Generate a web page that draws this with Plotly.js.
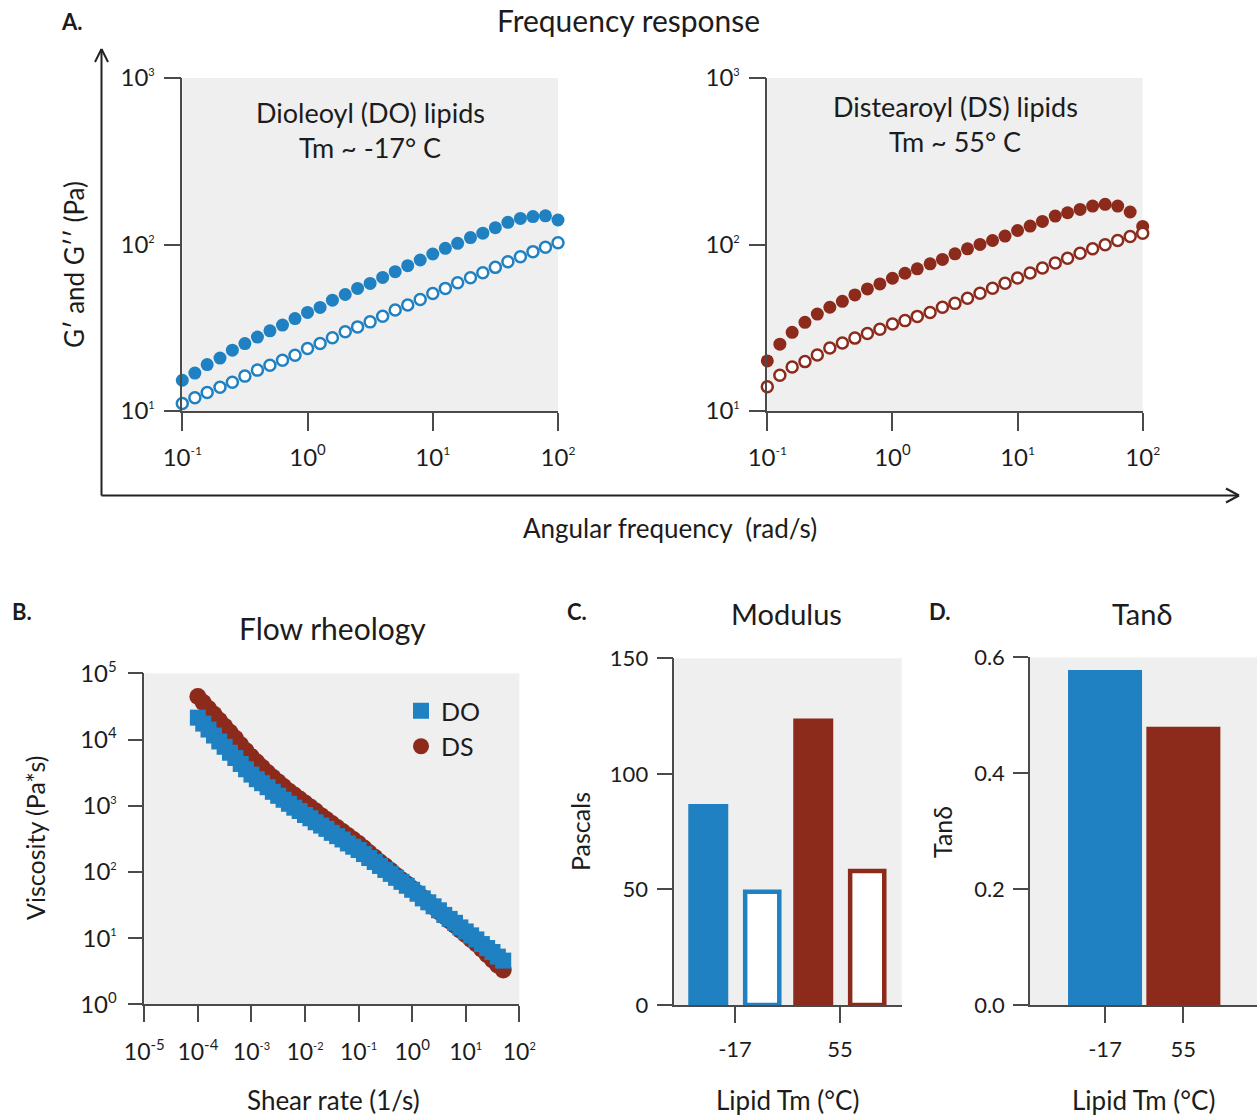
<!DOCTYPE html>
<html>
<head>
<meta charset="utf-8">
<script src="https://cdn.plot.ly/plotly-3.0.1.min.js"></script>
<style>html,body{margin:0;padding:0;background:#fff;}#chart{width:1257px;height:1115px;}</style>
</head>
<body>
<div id="chart"></div>
<script>
// ---------- Panel A: frequency sweep ----------
const angularFrequency = [0.1,0.126,0.158,0.2,0.251,0.316,0.398,0.501,0.631,0.794,1,1.26,1.58,2,2.51,3.16,3.98,5.01,6.31,7.94,10,12.6,15.8,20,25.1,31.6,39.8,50.1,63.1,79.4,100];
const doStorage = [15.3,16.9,19.0,20.8,23.2,25.4,27.8,30.3,32.8,35.9,39.1,41.9,46.3,50.1,54.5,58.4,63.4,68.7,74.6,80.7,87.7,94.9,101.7,110,117,126.2,135.8,143.5,147.1,148.6,140.3];
const doLoss = [11.1,12.0,12.9,13.9,14.9,16.2,17.6,18.8,20.2,21.6,23.7,25.4,27.5,29.9,32.0,34.3,37.1,40.4,43.3,46.8,50.8,54.5,58.9,63.1,67.6,72.9,78.8,84.5,90.6,96.2,102.5];
const dsStorage = [20.0,25.2,29.7,34.1,38.2,42.0,45.6,49.8,54.1,58.0,62.7,67.2,71.4,76.5,81.3,87.9,94.2,100.1,105.7,112.3,121.4,129.0,137.6,148.1,155.1,162.5,170.2,174.2,170.2,156.7,128.4];
const dsLoss = [14.0,16.4,18.4,19.8,21.7,23.9,25.6,27.4,29.2,31.0,33.3,34.9,37.0,39.1,42.0,44.3,47.5,50.9,54.6,58.5,62.9,67.5,72.3,77.5,82.7,88.6,94.2,99.6,105.7,111.7,117.0];

// ---------- Panel B: flow curve ----------
const shearRate = [1.0e-4,1.26e-4,1.58e-4,2.0e-4,2.51e-4,3.16e-4,3.98e-4,5.01e-4,6.31e-4,7.94e-4,
  1.0e-3,1.26e-3,1.58e-3,2.0e-3,2.51e-3,3.16e-3,3.98e-3,5.01e-3,6.31e-3,7.94e-3,
  0.01,0.0126,0.0158,0.02,0.0251,0.0316,0.0398,0.0501,0.0631,0.0794,
  0.1,0.126,0.158,0.2,0.251,0.316,0.398,0.501,0.631,0.794,
  1,1.26,1.58,2,2.51,3.16,3.98,5.01,6.31,7.94,
  10,12.6,15.8,20,25.1,31.6,39.8,50.1];
const viscosityDO = [21380,17380,14130,11480,9330,7760,6310,5250,4270,3550,
  2950,2510,2190,1905,1620,1410,1230,1070,933,832,
  724,646,562,501,447,389,347,309,269,240,
  214,186,162,141,123,107,93.3,81.3,70.8,61.7,
  53.7,46.8,39.8,34.7,30.2,26.3,22.4,19.5,17.0,14.5,
  12.6,11.0,9.55,8.13,7.08,6.17,5.25,4.57];
const viscosityDS = [44670,36310,29510,23990,19500,15850,12880,10470,8320,6760,
  5500,4570,3800,3160,2690,2290,1950,1660,1445,1260,
  1096,955,832,708,617,537,468,407,355,309,
  269,229,195,166,141,123,105,89.1,75.9,66.1,
  56.2,47.9,40.7,34.7,29.5,25.1,21.4,18.2,15.5,13.2,
  11.2,9.55,8.13,6.76,5.62,4.68,3.89,3.31];

// ---------- Panels C & D ----------
const lipidTm = ['-17', '55'];
const storageModulus = [87, 124];
const lossModulus = [49, 58];
const tanDelta = [0.578, 0.48];

// ---------- Tick labels ----------
const aXTickVals = [0.1, 1, 10, 100];
const aXTickText = ['10<sup><span style="font-size:12px">-1</span></sup>','10<sup><span style="font-size:15px">0</span></sup>','10<sup><span style="font-size:12px">1</span></sup>','10<sup><span style="font-size:12px">2</span></sup>'];
const aYTickVals = [10, 100, 1000];
const aYTickText = ['10<sup><span style="font-size:11px">1</span></sup>','10<sup><span style="font-size:11px">2</span></sup>','10<sup><span style="font-size:11px">3</span></sup>'];
const bXTickVals = [1e-5,1e-4,1e-3,1e-2,1e-1,1,10,100];
const bXTickText = ['10<sup><span style="font-size:15px">-5</span></sup>','10<sup><span style="font-size:15px">-4</span></sup>','10<sup><span style="font-size:11px">-3</span></sup>','10<sup><span style="font-size:11px">-2</span></sup>','10<sup><span style="font-size:11px">-1</span></sup>','10<sup><span style="font-size:15px">0</span></sup>','10<sup><span style="font-size:11px">1</span></sup>','10<sup><span style="font-size:11px">2</span></sup>'];
const bYTickVals = [1,10,100,1000,1e4,1e5];
const bYTickText = ['10<sup><span style="font-size:15px">0</span></sup>','10<sup><span style="font-size:11px">1</span></sup>','10<sup><span style="font-size:11px">2</span></sup>','10<sup><span style="font-size:11px">3</span></sup>','10<sup><span style="font-size:15px">4</span></sup>','10<sup><span style="font-size:15px">5</span></sup>'];

const BLUE = '#1f80c2';
const RED = '#8c2a1c';
const INK = '#1c1c1c';
const AXC = '#4a4a4a';
const W = 1257, H = 1115;
const px = v => v / W;
const py = v => 1 - v / H;

const traces = [
  // Panel A left (DO)
  {x: angularFrequency, y: doStorage, xaxis:'x', yaxis:'y', type:'scatter', mode:'markers', cliponaxis:false, showlegend:false,
   marker:{color:BLUE, size:13, line:{width:0}}},
  {x: angularFrequency, y: doLoss, xaxis:'x', yaxis:'y', type:'scatter', mode:'markers', cliponaxis:false, showlegend:false,
   marker:{color:'#ffffff', size:11, line:{color:BLUE, width:2.5}}},
  // Panel A right (DS)
  {x: angularFrequency, y: dsStorage, xaxis:'x2', yaxis:'y2', type:'scatter', mode:'markers', cliponaxis:false, showlegend:false,
   marker:{color:RED, size:13, line:{width:0}}},
  {x: angularFrequency, y: dsLoss, xaxis:'x2', yaxis:'y2', type:'scatter', mode:'markers', cliponaxis:false, showlegend:false,
   marker:{color:'#ffffff', size:11, line:{color:RED, width:2.5}}},
  // Panel B
  {x: shearRate, y: viscosityDS, xaxis:'x3', yaxis:'y3', type:'scatter', mode:'markers', name:'DS', legendrank:2, cliponaxis:false,
   marker:{color:RED, size:17, symbol:'circle', line:{width:0}}},
  {x: shearRate, y: viscosityDO, xaxis:'x3', yaxis:'y3', type:'scatter', mode:'markers', name:'DO', legendrank:1, cliponaxis:false,
   marker:{color:BLUE, size:16, symbol:'square', line:{width:0}}},
  // Panel C
  {x: lipidTm, y: storageModulus, xaxis:'x4', yaxis:'y4', type:'bar', showlegend:false, width:0.381, offset:-0.445,
   marker:{color:[BLUE, RED], line:{width:0}}},
  {x: lipidTm, y: lossModulus, xaxis:'x4', yaxis:'y4', type:'bar', showlegend:false, width:0.325, offset:0.097,
   marker:{color:'#ffffff', line:{color:[BLUE, RED], width:4.5}}},
  // Panel D
  {x: lipidTm, y: tanDelta, xaxis:'x5', yaxis:'y5', type:'bar', showlegend:false, width:0.945,
   marker:{color:[BLUE, RED], line:{width:0}}}
];

const axisBase = {showline:true, linecolor:AXC, linewidth:1.5, ticks:'outside', tickcolor:AXC, tickwidth:1.5,
  showgrid:false, zeroline:false, fixedrange:true, tickfont:{size:24, color:INK}};

function ax(extra){ return Object.assign({}, axisBase, extra); }

const layout = {
  width: W, height: H,
  margin:{l:0, r:0, t:0, b:0},
  paper_bgcolor:'#ffffff',
  plot_bgcolor:'#efefef',
  font:{family:'Lato, "Noto Sans", sans-serif', color:INK},
  barmode:'overlay',
  showlegend:true,
  legend:{x:px(401), y:py(688), xanchor:'left', yanchor:'top', bgcolor:'rgba(0,0,0,0)', font:{size:25, color:INK}, itemsizing:'trace', tracegroupgap:0},
  xaxis: ax({domain:[px(182.3), px(558)], anchor:'y', type:'log', range:[-1,2], tickvals:aXTickVals, ticktext:aXTickText, ticklen:18, ticklabelstandoff:6}),
  yaxis: ax({domain:[py(411), py(78)], anchor:'x', type:'log', range:[1,3], tickvals:aYTickVals, ticktext:aYTickText, ticklen:17, ticklabelstandoff:4}),
  xaxis2: ax({domain:[px(767.3), px(1142.7)], anchor:'y2', type:'log', range:[-1,2], tickvals:aXTickVals, ticktext:aXTickText, ticklen:18, ticklabelstandoff:6}),
  yaxis2: ax({domain:[py(411), py(78)], anchor:'x2', type:'log', range:[1,3], tickvals:aYTickVals, ticktext:aYTickText, ticklen:17, ticklabelstandoff:4}),
  xaxis3: ax({domain:[px(144.3), px(519.3)], anchor:'y3', type:'log', range:[-5,2], tickvals:bXTickVals, ticktext:bXTickText, ticklen:16, ticklabelstandoff:10, tickfont:{size:23, color:INK}}),
  yaxis3: ax({domain:[py(1004.3), py(673.3)], anchor:'x3', type:'log', range:[0,5], tickvals:bYTickVals, ticktext:bYTickText, ticklen:15, ticklabelstandoff:6, tickfont:{size:24, color:INK}}),
  xaxis4: ax({domain:[px(674.3), px(901.7)], anchor:'y4', type:'category', range:[-0.578, 1.588], ticklen:16, ticklabelstandoff:8, tickfont:{size:22, color:INK}}),
  yaxis4: ax({domain:[py(1005), py(658.3)], anchor:'x4', range:[0,150], tickvals:[0,50,100,150], ticklen:16, ticklabelstandoff:4, tickfont:{size:22, color:INK}}),
  xaxis5: ax({domain:[px(1030), 1], anchor:'y5', type:'category', range:[-0.958, 1.94], ticklen:16, ticklabelstandoff:8, tickfont:{size:22, color:INK}}),
  yaxis5: ax({domain:[py(1005), py(657.3)], anchor:'x5', range:[0,0.6], tickvals:[0,0.2,0.4,0.6], tickformat:'.1f', ticklen:15, ticklabelstandoff:4, tickfont:{size:22, color:INK}}),
  shapes: [
    {type:'line', xref:'paper', yref:'paper', x0:px(101.5), x1:px(101.5), y0:py(495.5), y1:py(49), line:{color:'#222', width:2}},
    {type:'line', xref:'paper', yref:'paper', x0:px(95), x1:px(101.5), y0:py(62), y1:py(49), line:{color:'#222', width:2}},
    {type:'line', xref:'paper', yref:'paper', x0:px(108), x1:px(101.5), y0:py(62), y1:py(49), line:{color:'#222', width:2}},
    {type:'line', xref:'paper', yref:'paper', x0:px(101.5), x1:px(1239), y0:py(495.5), y1:py(495.5), line:{color:'#222', width:2}},
    {type:'line', xref:'paper', yref:'paper', x0:px(1226), x1:px(1239), y0:py(488.5), y1:py(495.5), line:{color:'#222', width:2}},
    {type:'line', xref:'paper', yref:'paper', x0:px(1226), x1:px(1239), y0:py(502.5), y1:py(495.5), line:{color:'#222', width:2}}
  ],
  annotations: []
};

function note(text, x, y, size, extra){
  layout.annotations.push(Object.assign({text:text, xref:'paper', yref:'paper', x:px(x), y:py(y), xanchor:'center', yanchor:'middle',
    showarrow:false, font:{size:size, color:INK}}, extra || {}));
}
note('<b>A.</b>', 72, 21, 22);
note('Frequency response', 629, 20, 30);
note('G\u2032 and G\u2032\u2032 (Pa)', 74, 265, 26, {textangle:-90});
note('Angular frequency  (rad/s)', 670, 528, 26);
note('Dioleoyl (DO) lipids', 370, 112, 27);
note('Tm ~ -17\u00b0 C', 370, 147, 27);
note('Distearoyl (DS) lipids', 955, 106, 27);
note('Tm ~ 55\u00b0 C', 955, 141, 27);
note('<b>B.</b>', 22, 611, 22);
note('Flow rheology', 332, 628, 30);
note('Viscosity (Pa*s)', 35, 838, 25, {textangle:-90});
note('Shear rate (1/s)', 333, 1100, 26);
note('<b>C.</b>', 577, 611, 22);
note('Modulus', 786, 613, 29);
note('Pascals', 580, 832, 25, {textangle:-90});
note('Lipid Tm (\u00b0C)', 787, 1100, 26);
note('<b>D.</b>', 940, 611, 22);
note('Tan\u03b4', 1142, 613, 29);
note('Tan\u03b4', 942, 832, 25, {textangle:-90});
note('Lipid Tm (\u00b0C)', 1143, 1100, 26);

Plotly.newPlot('chart', traces, layout, {displayModeBar:false, responsive:false});
</script>
</body>
</html>
